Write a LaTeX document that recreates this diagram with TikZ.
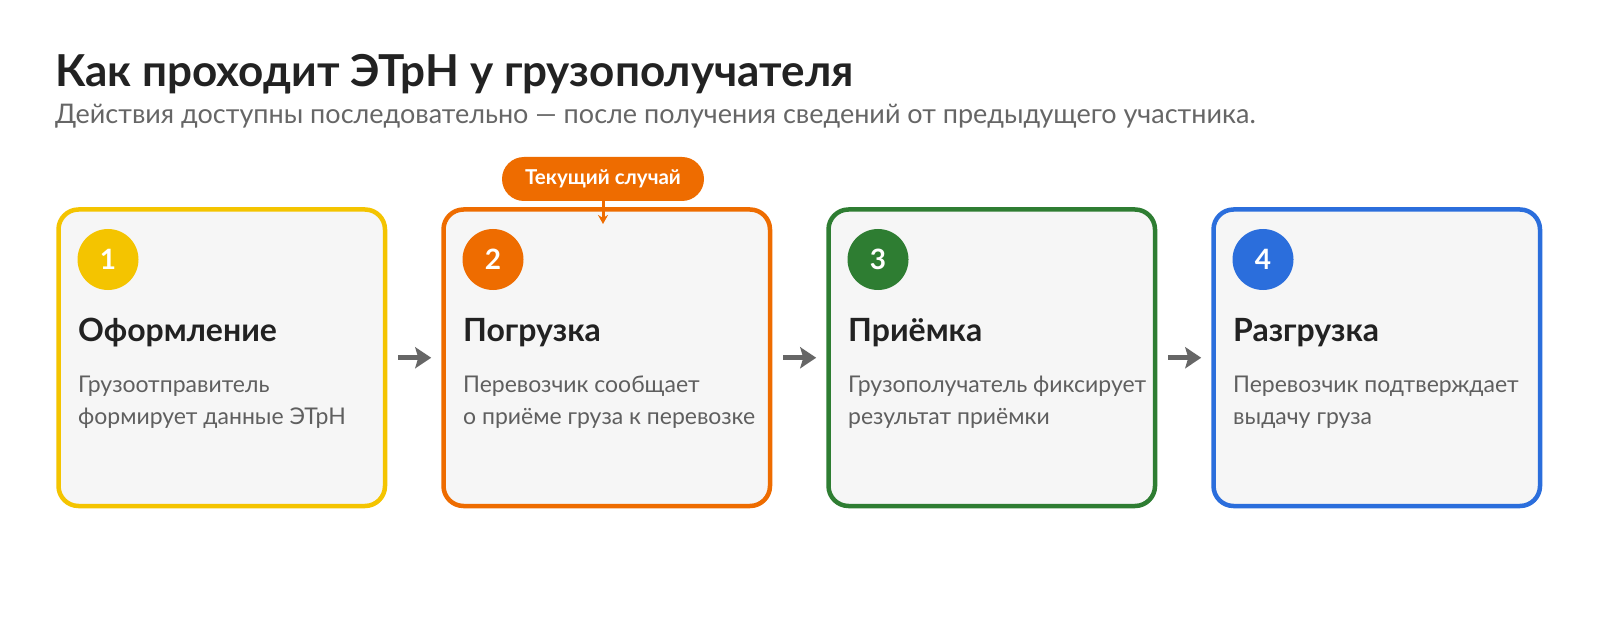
\documentclass[tikz,border=0pt]{standalone}
\usepackage{fontspec}
\setmainfont{Lato}
\usetikzlibrary{arrows.meta}
\definecolor{cA}{HTML}{F4C400}
\definecolor{cB}{HTML}{EE6C00}
\definecolor{cC}{HTML}{2E7D32}
\definecolor{cD}{HTML}{2B6EDC}
\definecolor{boxbg}{HTML}{F6F6F6}
\definecolor{titlec}{HTML}{222222}
\definecolor{subc}{HTML}{666666}
\definecolor{descc}{HTML}{5F5F5F}
\definecolor{arrc}{HTML}{666666}
\tikzset{
  stepbox/.style={draw, line width=4.5pt, rounded corners=20pt, fill=boxbg,
    minimum width=326.5pt, minimum height=296.5pt, anchor=north west, inner sep=0pt},
  numc/.style={circle, minimum size=61pt, inner sep=0pt, text=white,
    font=\fontsize{28}{28}\selectfont\bfseries},
  headt/.style={anchor=base west, inner sep=0pt, text=titlec,
    font=\fontsize{32}{32}\selectfont\bfseries},
  desct/.style={anchor=base west, inner sep=0pt, text=descc,
    font=\fontsize{23}{23}\selectfont},
  flow/.style={draw=arrc, line width=5pt, -{Stealth[length=16pt, width=21pt, inset=3pt]}},
  badge/.style={fill=cB, rounded corners=22pt, minimum height=44pt, minimum width=202pt,
    inner sep=0pt, text=white, font=\fontsize{20.5}{20.5}\selectfont\bfseries},
  pointer/.style={draw=cB, line width=3pt, -{Stealth[length=9pt, width=10pt]}}
}
\begin{document}
\begin{tikzpicture}[x=1pt, y=-1pt]
\useasboundingbox (0,0) rectangle (1600,620);
\fill[white] (0,0) rectangle (1600,620);

\node[anchor=base west, inner sep=0pt, text=titlec, font=\fontsize{44}{44}\selectfont\bfseries]
  (title) at (55,87) {Как проходит ЭТрН у грузополучателя};
\node[anchor=base west, inner sep=0pt, text=subc, font=\fontsize{27}{27}\selectfont]
  (subtitle) at (55,123.5) {Действия доступны последовательно — после получения сведений от предыдущего участника.};

% boxes
\node[stepbox, draw=cA] (b1) at (56.25,207.25) {};
\node[stepbox, draw=cB] (b2) at (441.25,207.25) {};
\node[stepbox, draw=cC] (b3) at (826.25,207.25) {};
\node[stepbox, draw=cD] (b4) at (1211.25,207.25) {};

% numbers
\node[numc, fill=cA] (n1) at (108,259.5) {1};
\node[numc, fill=cB] (n2) at (493,259.5) {2};
\node[numc, fill=cC] (n3) at (878,259.5) {3};
\node[numc, fill=cD] (n4) at (1263,259.5) {4};

% headings
\node[headt] (h1) at (78,341.5) {Оформление};
\node[headt] (h2) at (463,341.5) {Погрузка};
\node[headt] (h3) at (848,341.5) {Приёмка};
\node[headt] (h4) at (1233,341.5) {Разгрузка};

% descriptions
\node[desct] (d1a) at (78,392) {Грузоотправитель};
\node[desct] (d1b) at (78,424) {формирует данные ЭТрН};
\node[desct] (d2a) at (463,392) {Перевозчик сообщает};
\node[desct] (d2b) at (463,424) {о приёме груза к перевозке};
\node[desct] (d3a) at (848,392) {Грузополучатель фиксирует};
\node[desct] (d3b) at (848,424) {результат приёмки};
\node[desct] (d4a) at (1233,392) {Перевозчик подтверждает};
\node[desct] (d4b) at (1233,424) {выдачу груза};

% flow arrows
\draw[flow] ([xshift=11pt]b1.east) -- ([xshift=-10pt]b2.west);
\draw[flow] ([xshift=11pt]b2.east) -- ([xshift=-10pt]b3.west);
\draw[flow] ([xshift=11pt]b3.east) -- ([xshift=-10pt]b4.west);

% current case badge
\node[badge] (cur) at (603,179) {Текущий случай};
\coordinate (curtip) at (603,224);
\draw[pointer] (cur.south) -- (curtip);
\end{tikzpicture}
\end{document}
